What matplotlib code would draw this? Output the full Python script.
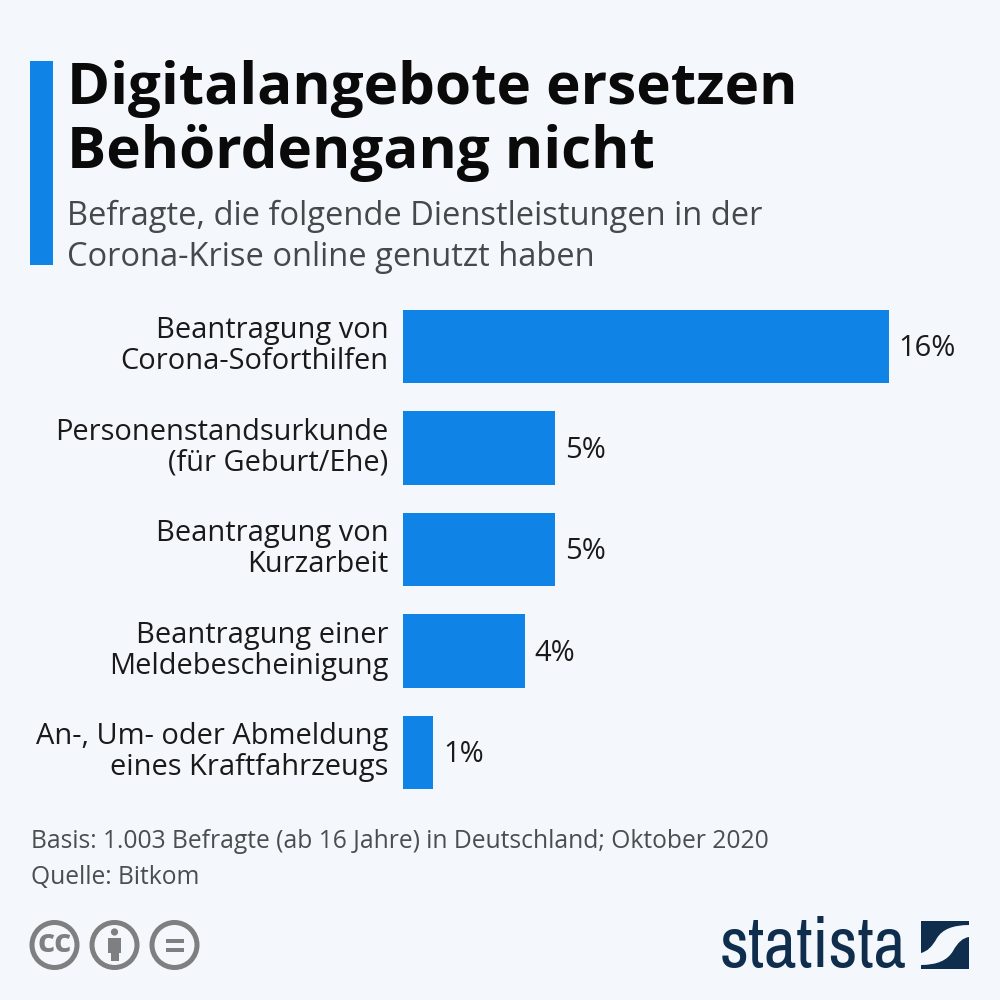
import matplotlib
matplotlib.use('Agg')
import matplotlib.pyplot as plt
from matplotlib import font_manager
from matplotlib.patches import Rectangle, Circle, PathPatch
from matplotlib.path import Path

plt.rcParams['font.family'] = ['Open Sans', 'DejaVu Sans']

categories = ['Beantragung von\nCorona-Soforthilfen',
              'Personenstandsurkunde\n(für Geburt/Ehe)',
              'Beantragung von\nKurzarbeit',
              'Beantragung einer\nMeldebescheinigung',
              'An-, Um- oder Abmeldung\neines Kraftfahrzeugs']
values = [16, 5, 5, 4, 1]

BG = '#f4f8fc'
BLUE = '#0f83e6'
NAVY = '#0f2d4c'
GREY = '#7d7f80'
W = 1000.0

fig = plt.figure(figsize=(10, 10), dpi=100, facecolor=BG)

# overlay in pixel coords for the header, footer and logos
pg = fig.add_axes([0, 0, 1, 1])
pg.set_xlim(0, 1000)
pg.set_ylim(1000, 0)
pg.axis('off')

pg.add_patch(Rectangle((30, 61), 23, 204, color=BLUE, lw=0))
pg.text(67, 89, 'Digitalangebote ersetzen', fontsize=42, fontweight='bold', color='#0a0a0a', va='center')
pg.text(67, 153, 'Behördengang nicht', fontsize=42, fontweight='bold', color='#0a0a0a', va='center')
pg.text(67, 216, 'Befragte, die folgende Dienstleistungen in der', fontsize=23.5, color='#45494c', va='center')
pg.text(67, 257, 'Corona-Krise online genutzt haben', fontsize=23.5, color='#45494c', va='center')

# bars
top, bottom = 310.0, 789.0
ax = fig.add_axes([403 / W, 1 - bottom / W, 486 / W, (bottom - top) / W])
ax.set_facecolor('none')
y = list(range(len(values)))
ax.barh(y, values, height=0.72, color=BLUE)
ax.set_xlim(0, 16)
ax.set_ylim(len(values) - 1 + 0.36, -0.36)
ax.axis('off')
for i, v in enumerate(values):
    ax.annotate(f'{v}%', (v, i), xytext=(7, -1.5), textcoords='offset points',
                fontsize=21, color='#1a1a1a', va='center', ha='left')
    ax.annotate(categories[i], (0, i), xytext=(-10.5, 3.3), textcoords='offset points',
                fontsize=20.9, color='#1a1a1a', va='center_baseline', ha='right', linespacing=1.08)

# footer
pg.text(31, 842, 'Basis: 1.003 Befragte (ab 16 Jahre) in Deutschland; Oktober 2020',
        fontsize=17.7, color='#4a4e51', va='center')
pg.text(31, 877, 'Quelle: Bitkom', fontsize=17.7, color='#4a4e51', va='center')

# cc icons
for cx in [54.5, 114.5, 174.5]:
    pg.add_patch(Circle((cx, 945), 22.5, fc='none', ec=GREY, lw=3.6))
pg.text(54.5, 944, 'cc', fontsize=24, fontweight='bold', color=GREY, ha='center', va='center')
pg.add_patch(Circle((114.5, 932), 3.6, color=GREY, lw=0))
pg.add_patch(Rectangle((108, 938), 13, 15, color=GREY, lw=0))
pg.add_patch(Rectangle((110.5, 950), 8, 11, color=GREY, lw=0))
pg.add_patch(Rectangle((165.5, 939), 18, 4, color=GREY, lw=0))
pg.add_patch(Rectangle((165.5, 948), 18, 4, color=GREY, lw=0))

# statista logo, condensed face if there is one
names = sorted({f.name for f in font_manager.fontManager.ttflist})
narrow = [n for n in names if 'Narrow' in n or 'Condensed' in n]
logo_font = narrow[0] if narrow else 'Roboto'
logo = pg.text(720, 947, 'statista', fontsize=38, fontweight='bold', fontstretch='condensed',
               color=NAVY, va='center', family=[logo_font, 'DejaVu Sans'])
# fit the wordmark to its width in the reference
fig.canvas.draw()
wd = logo.get_window_extent().width
logo.set_fontsize(38 * 187 / wd)
C3 = Path.CURVE3
upper = Path([(921, 921), (969, 921), (969, 925), (945, 925), (937, 938), (930, 951), (921, 953), (921, 921)],
             [Path.MOVETO, Path.LINETO, Path.LINETO, C3, C3, C3, C3, Path.CLOSEPOLY])
lower = Path([(969, 969), (921, 969), (921, 965), (945, 965), (953, 951), (960, 938), (969, 937), (969, 969)],
             [Path.MOVETO, Path.LINETO, Path.LINETO, C3, C3, C3, C3, Path.CLOSEPOLY])
pg.add_patch(PathPatch(upper, fc=NAVY, lw=0))
pg.add_patch(PathPatch(lower, fc=NAVY, lw=0))

fig.savefig('out.png', dpi=100, facecolor=BG)
